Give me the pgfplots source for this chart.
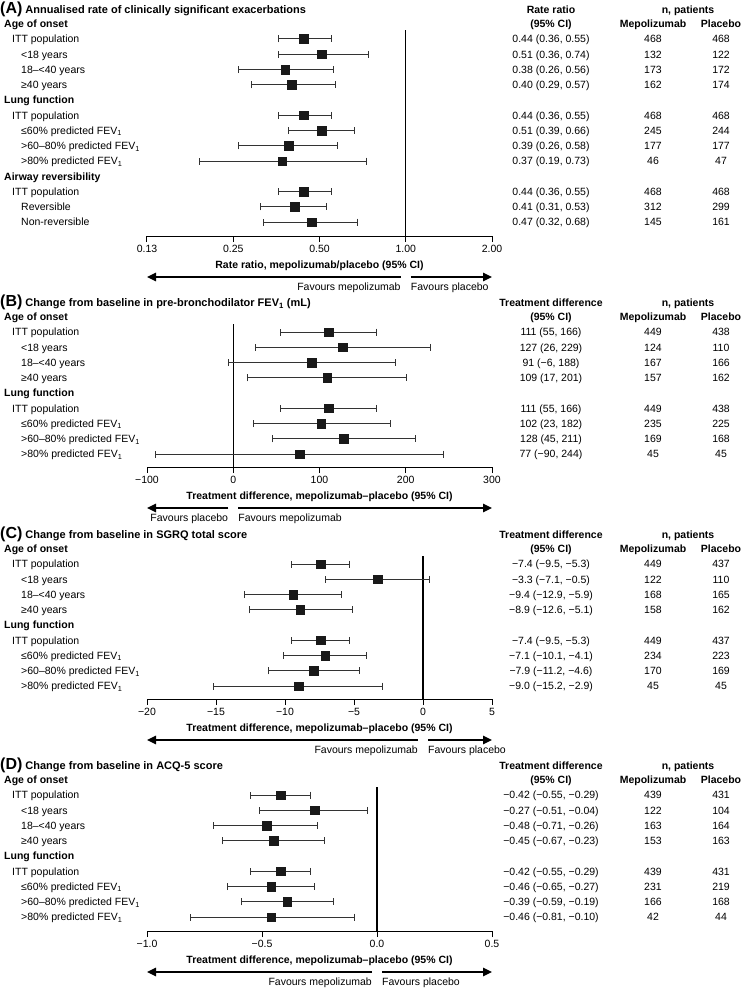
\documentclass[border=0pt]{standalone}
\usepackage{fontspec}
\setmainfont{Liberation Sans}
\usepackage{pgfplots}
\pgfplotsset{compat=1.18}
\usepackage{pgfplotstable}
\usetikzlibrary{arrows.meta}

\newcommand\fs{\fontsize{10.5}{12}\selectfont}

\pgfplotstableread{
row est lo hi
1 0.44 0.36 0.55
2 0.51 0.36 0.74
3 0.38 0.26 0.56
4 0.40 0.29 0.57
6 0.44 0.36 0.55
7 0.51 0.39 0.66
8 0.39 0.26 0.58
9 0.37 0.19 0.73
11 0.44 0.36 0.55
12 0.41 0.31 0.53
13 0.47 0.32 0.68
}\dataA
\pgfplotstableread{
row est lo hi
1 111 55 166
2 127 26 229
3 91 -6 188
4 109 17 201
6 111 55 166
7 102 23 182
8 128 45 211
9 77 -90 244
}\dataB
\pgfplotstableread{
row est lo hi
1 -7.4 -9.5 -5.3
2 -3.3 -7.1 0.5
3 -9.4 -12.9 -5.9
4 -8.9 -12.6 -5.1
6 -7.4 -9.5 -5.3
7 -7.1 -10.1 -4.1
8 -7.9 -11.2 -4.6
9 -9.0 -15.2 -2.9
}\dataC
\pgfplotstableread{
row est lo hi
1 -0.42 -0.55 -0.29
2 -0.27 -0.51 -0.04
3 -0.48 -0.71 -0.26
4 -0.45 -0.67 -0.23
6 -0.42 -0.55 -0.29
7 -0.46 -0.65 -0.27
8 -0.39 -0.59 -0.19
9 -0.46 -0.81 -0.10
}\dataD

\pgfplotsset{
  forest/.style={scale only axis, width=345pt, anchor=south west,
    axis x line*=bottom, axis y line=none, y dir=reverse, clip=false,
    tick align=outside, major tick length=6pt,
    axis line style={line width=1pt, black},
    tick style={black, line width=1pt},
    xticklabel style={font=\fs}, ytick=\empty},
  est/.style={only marks, mark=square*, mark size=4.3pt, black!90,
    error bars/.cd, x dir=both, x explicit, error mark=|,
    error bar style={line width=1pt, black!80},
    error mark options={black!80, line width=1pt, mark size=3.5pt}},
  zline/.style={black, line width=1.1pt}
}

\newcommand\Row[6]{%
  \pgfmathsetmacro\yy{-(#1)-3.8}%
  \node[anchor=base west,inner sep=0pt] at (#2pt,\yy pt) {#3};%
  \node[anchor=base,inner sep=0pt] at (551pt,\yy pt) {#4};%
  \node[anchor=base,inner sep=0pt] at (653pt,\yy pt) {#5};%
  \node[anchor=base,inner sep=0pt] at (721pt,\yy pt) {#6};}
\newcommand\Head[2]{%
  \pgfmathsetmacro\yy{-(#1)-3.8}%
  \node[anchor=base west,inner sep=0pt,font=\fs\bfseries] at (4pt,\yy pt) {#2};}
\newcommand\Title[4]{% r1, letter, title, col header line 1
  \pgfmathsetmacro\yy{-(#1)+29-3.8}%
  \pgfmathsetmacro\yb{-(#1)+15-3.8}%
  \node[anchor=base west,inner sep=0pt,font=\fontsize{11}{12}\selectfont\bfseries] at (0pt,\yy pt) {{\fontsize{16}{17}\selectfont(#2)} #3};%
  \node[anchor=base,inner sep=0pt,font=\fs\bfseries] at (551pt,\yy pt) {#4};%
  \node[anchor=base,inner sep=0pt,font=\fs\bfseries] at (551pt,\yb pt) {(95\% CI)};%
  \node[anchor=base,inner sep=0pt,font=\fs\bfseries] at (688pt,\yy pt) {n, patients};%
  \node[anchor=base,inner sep=0pt,font=\fs\bfseries] at (653pt,\yb pt) {Mepolizumab};%
  \node[anchor=base,inner sep=0pt,font=\fs\bfseries] at (721pt,\yb pt) {Placebo};%
  \node[anchor=base west,inner sep=0pt,font=\fs\bfseries] at (4pt,\yb pt) {Age of onset};}
\newcommand\Bottom[5]{% b, zero, left, right, axis title
  \pgfmathsetmacro\yt{-(#1)-29-3.8}%
  \node[anchor=base,inner sep=0pt,font=\fs\bfseries] at (319.5pt,\yt pt) {#5};%
  \pgfmathsetmacro\ya{-(#1)-41}%
  \pgfmathsetmacro\zl{#2-5}\pgfmathsetmacro\zr{#2+5}%
  \draw[line width=1.3pt,-{Triangle[length=9pt,width=8.5pt]}] (\zl pt,\ya pt) -- (147pt,\ya pt);%
  \draw[line width=1.3pt,-{Triangle[length=9pt,width=8.5pt]}] (\zr pt,\ya pt) -- (492pt,\ya pt);%
  \pgfmathsetmacro\yf{-(#1)-51-3.8}%
  \node[anchor=base east,inner sep=0pt] at (\zl pt,\yf pt) {#3};%
  \node[anchor=base west,inner sep=0pt] at (\zr pt,\yf pt) {#4};}

\begin{document}
\begin{tikzpicture}[font=\fs]
\useasboundingbox (0pt,0pt) rectangle (745pt,-990pt);

% ---------------- Panel A
\begin{axis}[forest, at={(147pt,-236pt)}, height=206pt,
  xmode=log, log basis x=2, xmin=0.125, xmax=2, ymin=0.41, ymax=13.918,
  xtick={0.125,0.25,0.5,1,2}, xticklabels={0.13,0.25,0.50,1.00,2.00}]
\addplot[zline] coordinates {(1,0.41) (1,13.918)};
\addplot[est] table[x=est, y=row, x error plus expr={\thisrow{hi}-\thisrow{est}}, x error minus expr={\thisrow{est}-\thisrow{lo}}] {\dataA};
\end{axis}
\Title{39}{A}{Annualised rate of clinically significant exacerbations}{Rate ratio}
\Row{39}{12}{ITT population}{0.44 (0.36, 0.55)}{468}{468}
\Row{54.25}{21}{<18 years}{0.51 (0.36, 0.74)}{132}{122}
\Row{69.5}{21}{18–<40 years}{0.38 (0.26, 0.56)}{173}{172}
\Row{84.75}{21}{≥40 years}{0.40 (0.29, 0.57)}{162}{174}
\Head{100}{Lung function}
\Row{115.25}{12}{ITT population}{0.44 (0.36, 0.55)}{468}{468}
\Row{130.5}{21}{≤60\% predicted FEV\textsubscript{1}}{0.51 (0.39, 0.66)}{245}{244}
\Row{145.75}{21}{>60–80\% predicted FEV\textsubscript{1}}{0.39 (0.26, 0.58)}{177}{177}
\Row{161}{21}{>80\% predicted FEV\textsubscript{1}}{0.37 (0.19, 0.73)}{46}{47}
\Head{176.25}{Airway reversibility}
\Row{191.5}{12}{ITT population}{0.44 (0.36, 0.55)}{468}{468}
\Row{206.75}{21}{Reversible}{0.41 (0.31, 0.53)}{312}{299}
\Row{222}{21}{Non-reversible}{0.47 (0.32, 0.68)}{145}{161}
\Bottom{236}{405.75}{Favours mepolizumab}{Favours placebo}{Rate ratio, mepolizumab/placebo (95\% CI)}

% ---------------- Panel B
\begin{axis}[forest, at={(147pt,-467pt)}, height=143pt,
  xmin=-100, xmax=300, ymin=0.475, ymax=9.852,
  xtick={-100,0,100,200,300}, xticklabels={−100,0,100,200,300}]
\addplot[zline] coordinates {(0,0.475) (0,9.852)};
\addplot[est] table[x=est, y=row, x error plus expr={\thisrow{hi}-\thisrow{est}}, x error minus expr={\thisrow{est}-\thisrow{lo}}] {\dataB};
\end{axis}
\Title{332}{B}{Change from baseline in pre-bronchodilator FEV\textsubscript{1} (mL)}{Treatment difference}
\Row{332}{12}{ITT population}{111 (55, 166)}{449}{438}
\Row{347.25}{21}{<18 years}{127 (26, 229)}{124}{110}
\Row{362.5}{21}{18–<40 years}{91 (−6, 188)}{167}{166}
\Row{377.75}{21}{≥40 years}{109 (17, 201)}{157}{162}
\Head{393}{Lung function}
\Row{408.25}{12}{ITT population}{111 (55, 166)}{449}{438}
\Row{423.5}{21}{≤60\% predicted FEV\textsubscript{1}}{102 (23, 182)}{235}{225}
\Row{438.75}{21}{>60–80\% predicted FEV\textsubscript{1}}{128 (45, 211)}{169}{168}
\Row{454}{21}{>80\% predicted FEV\textsubscript{1}}{77 (−90, 244)}{45}{45}
\Bottom{467}{233.25}{Favours placebo}{Favours mepolizumab}{Treatment difference, mepolizumab–placebo (95\% CI)}

% ---------------- Panel C
\begin{axis}[forest, at={(147pt,-699pt)}, height=143pt,
  xmin=-20, xmax=5, ymin=0.475, ymax=9.852,
  xtick={-20,-15,-10,-5,0,5}, xticklabels={−20,−15,−10,−5,0,5}]
\addplot[zline] coordinates {(0,0.475) (0,9.852)};
\addplot[est] table[x=est, y=row, x error plus expr={\thisrow{hi}-\thisrow{est}}, x error minus expr={\thisrow{est}-\thisrow{lo}}] {\dataC};
\end{axis}
\Title{564}{C}{Change from baseline in SGRQ total score}{Treatment difference}
\Row{564}{12}{ITT population}{−7.4 (−9.5, −5.3)}{449}{437}
\Row{579.25}{21}{<18 years}{−3.3 (−7.1, −0.5)}{122}{110}
\Row{594.5}{21}{18–<40 years}{−9.4 (−12.9, −5.9)}{168}{165}
\Row{609.75}{21}{≥40 years}{−8.9 (−12.6, −5.1)}{158}{162}
\Head{625}{Lung function}
\Row{640.25}{12}{ITT population}{−7.4 (−9.5, −5.3)}{449}{437}
\Row{655.5}{21}{≤60\% predicted FEV\textsubscript{1}}{−7.1 (−10.1, −4.1)}{234}{223}
\Row{670.75}{21}{>60–80\% predicted FEV\textsubscript{1}}{−7.9 (−11.2, −4.6)}{170}{169}
\Row{686}{21}{>80\% predicted FEV\textsubscript{1}}{−9.0 (−15.2, −2.9)}{45}{45}
\Bottom{699}{423}{Favours mepolizumab}{Favours placebo}{Treatment difference, mepolizumab–placebo (95\% CI)}

% ---------------- Panel D
\begin{axis}[forest, at={(147pt,-931pt)}, height=144pt,
  xmin=-1, xmax=0.5, ymin=0.475, ymax=9.918,
  xtick={-1,-0.5,0,0.5}, xticklabels={−1.0,−0.5,0.0,0.5}]
\addplot[zline] coordinates {(0,0.475) (0,9.918)};
\addplot[est] table[x=est, y=row, x error plus expr={\thisrow{hi}-\thisrow{est}}, x error minus expr={\thisrow{est}-\thisrow{lo}}] {\dataD};
\end{axis}
\Title{795}{D}{Change from baseline in ACQ-5 score}{Treatment difference}
\Row{795}{12}{ITT population}{−0.42 (−0.55, −0.29)}{439}{431}
\Row{810.25}{21}{<18 years}{−0.27 (−0.51, −0.04)}{122}{104}
\Row{825.5}{21}{18–<40 years}{−0.48 (−0.71, −0.26)}{163}{164}
\Row{840.75}{21}{≥40 years}{−0.45 (−0.67, −0.23)}{153}{163}
\Head{856}{Lung function}
\Row{871.25}{12}{ITT population}{−0.42 (−0.55, −0.29)}{439}{431}
\Row{886.5}{21}{≤60\% predicted FEV\textsubscript{1}}{−0.46 (−0.65, −0.27)}{231}{219}
\Row{901.75}{21}{>60–80\% predicted FEV\textsubscript{1}}{−0.39 (−0.59, −0.19)}{166}{168}
\Row{917}{21}{>80\% predicted FEV\textsubscript{1}}{−0.46 (−0.81, −0.10)}{42}{44}
\Bottom{931}{377}{Favours mepolizumab}{Favours placebo}{Treatment difference, mepolizumab–placebo (95\% CI)}
\end{tikzpicture}
\end{document}
